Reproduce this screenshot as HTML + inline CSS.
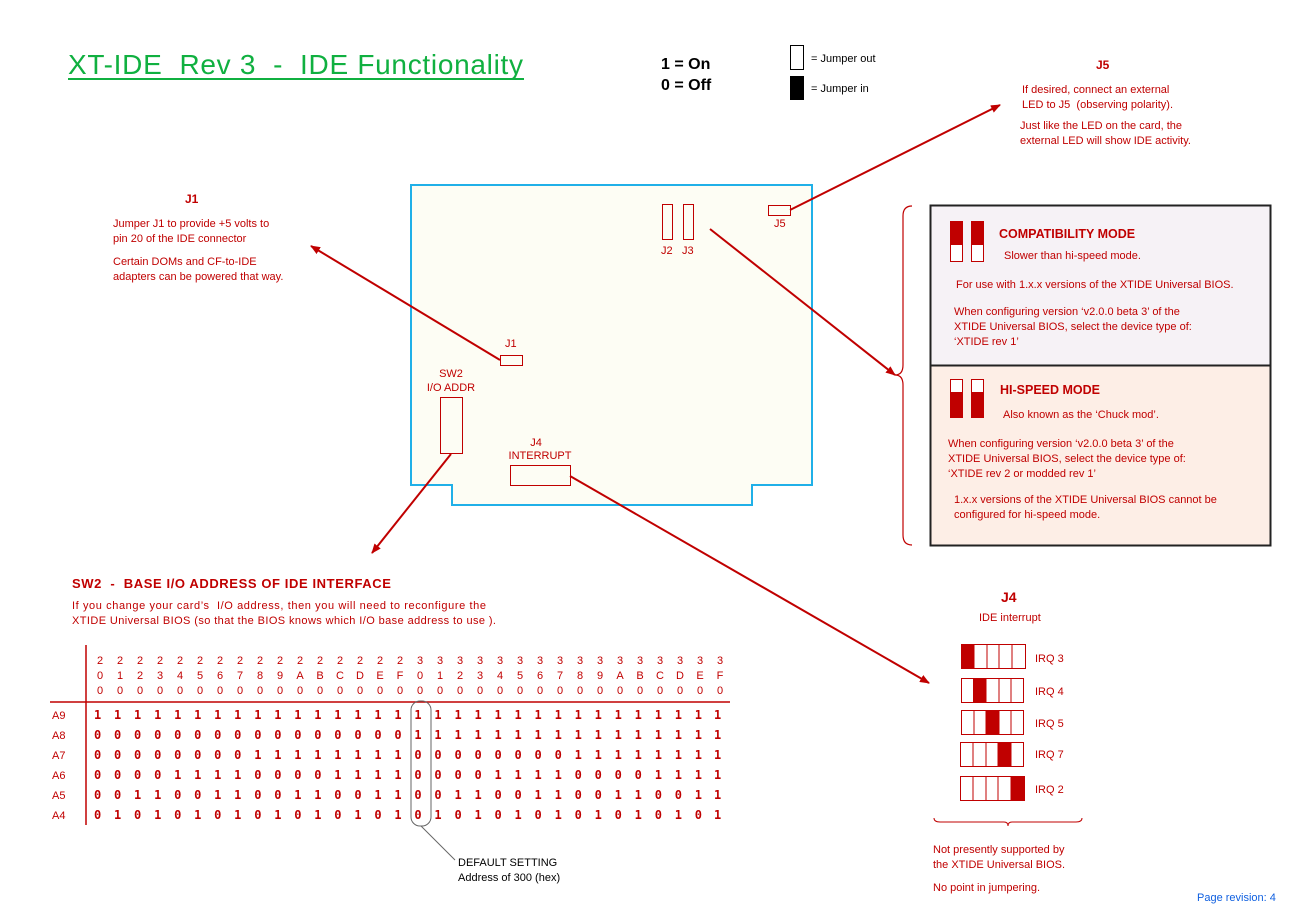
<!DOCTYPE html>
<html><head><meta charset="utf-8"><style>
html,body{margin:0;padding:0;background:#fff}
svg{display:block}
text{font-family:"Liberation Sans","DejaVu Sans",sans-serif;fill:#c00000;white-space:pre}
.s{font-size:11px}
.b{font-size:12px;font-weight:bold}
.hd{font-size:11px;text-anchor:middle}
.m{font-family:'DejaVu Sans Mono',monospace;font-size:12px;font-weight:bold}
.ml{font-family:'DejaVu Sans Mono',monospace;letter-spacing:12.8px;font-size:12px;font-weight:bold}
</style></head><body>
<svg width="1307" height="920" viewBox="0 0 1307 920" xmlns="http://www.w3.org/2000/svg" xml:space="preserve">
<defs><marker id="a" markerWidth="10" markerHeight="8" refX="9" refY="4" orient="auto" markerUnits="userSpaceOnUse"><path d="M0,0 L10,4 L0,8z" fill="#c00000"/></marker></defs>
<text x="68" y="74" style="font-size:28px;fill:#10b040" textLength="455" lengthAdjust="spacing">XT-IDE  Rev 3  -  IDE Functionality</text>
<line x1="68" y1="79" x2="524" y2="79" stroke="#10b040" stroke-width="2"/>
<text x="661" y="69" style="font-size:16px;fill:#000;font-weight:bold">1 = On</text>
<text x="661" y="90" style="font-size:16px;fill:#000;font-weight:bold">0 = Off</text>
<rect x="790.5" y="45.5" width="13" height="24" fill="#fff" stroke="#000"/>
<rect x="790" y="76" width="14" height="24" fill="#000"/>
<text x="811" y="62" style="font-size:11px;fill:#000">= Jumper out</text>
<text x="811" y="92" style="font-size:11px;fill:#000">= Jumper in</text>

<text x="1096" y="69" class="b">J5</text>
<text x="1022" y="93" class="s">If desired, connect an external</text>
<text x="1022" y="108" class="s">LED to J5  (observing polarity).</text>
<text x="1020" y="129" class="s">Just like the LED on the card, the</text>
<text x="1020" y="144" class="s">external LED will show IDE activity.</text>

<text x="185" y="203" class="b">J1</text>
<text x="113" y="227" class="s">Jumper J1 to provide +5 volts to</text>
<text x="113" y="242" class="s">pin 20 of the IDE connector</text>
<text x="113" y="265" class="s">Certain DOMs and CF-to-IDE</text>
<text x="113" y="280" class="s">adapters can be powered that way.</text>

<polygon points="411,185 812,185 812,485 752,485 752,505 452,505 452,485 411,485" fill="#fdfdf4" stroke="#20b0e8" stroke-width="2"/>
<rect x="662.5" y="204.5" width="10" height="35" fill="none" stroke="#c00000"/>
<rect x="683.5" y="204.5" width="10" height="35" fill="none" stroke="#c00000"/>
<text x="661" y="254" class="s">J2</text><text x="682" y="254" class="s">J3</text>
<rect x="768.5" y="205.5" width="22" height="10" fill="none" stroke="#c00000"/>
<text x="774" y="227" class="s">J5</text>
<rect x="500.5" y="355.5" width="22" height="10" fill="none" stroke="#c00000"/>
<text x="505" y="347" class="s">J1</text>
<text x="451" y="377" class="s" text-anchor="middle">SW2</text>
<text x="451" y="391" class="s" text-anchor="middle">I/O ADDR</text>
<rect x="440.5" y="397.5" width="22" height="56" fill="none" stroke="#c00000"/>
<text x="536" y="446" class="s" text-anchor="middle">J4</text>
<text x="540" y="459" class="s" text-anchor="middle">INTERRUPT</text>
<rect x="510.5" y="465.5" width="60" height="20" fill="none" stroke="#c00000"/>

<g stroke="#c00000" stroke-width="2" marker-end="url(#a)">
<line x1="790" y1="210" x2="1000" y2="105"/>
<line x1="710" y1="229" x2="895" y2="375"/>
<line x1="500" y1="360" x2="311" y2="246"/>
<line x1="451" y1="454" x2="372" y2="553"/>
<line x1="570" y1="476" x2="929" y2="683"/>
</g>

<path d="M912,206 Q903,206 903,216 L903,365 Q903,375 895,375 Q903,375 903,385 L903,535 Q903,545 912,545" fill="none" stroke="#c00000" stroke-width="1.2"/>
<rect x="930.5" y="205.5" width="340" height="160" fill="#f6f2f6" stroke="#222" stroke-width="2"/>
<rect x="930.5" y="365.5" width="340" height="180" fill="#fdeee6" stroke="#222" stroke-width="2"/>
<rect x="950.5" y="221.5" width="12" height="40" fill="#fff" stroke="#c00000"/><rect x="950" y="221" width="13" height="24" fill="#c00000"/>
<rect x="971.5" y="221.5" width="12" height="40" fill="#fff" stroke="#c00000"/><rect x="971" y="221" width="13" height="24" fill="#c00000"/>
<text x="999" y="238" class="b" style="font-size:12.5px">COMPATIBILITY MODE</text>
<text x="1004" y="259" class="s">Slower than hi-speed mode.</text>
<text x="956" y="288" class="s">For use with 1.x.x versions of the XTIDE Universal BIOS.</text>
<text x="954" y="315" class="s">When configuring version ‘v2.0.0 beta 3’ of the</text>
<text x="954" y="330" class="s">XTIDE Universal BIOS, select the device type of:</text>
<text x="954" y="345" class="s">‘XTIDE rev 1’</text>
<rect x="950.5" y="379.5" width="12" height="38" fill="#fff" stroke="#c00000"/><rect x="950" y="392" width="13" height="26" fill="#c00000"/>
<rect x="971.5" y="379.5" width="12" height="38" fill="#fff" stroke="#c00000"/><rect x="971" y="392" width="13" height="26" fill="#c00000"/>
<text x="1000" y="394" class="b" style="font-size:12.5px">HI-SPEED MODE</text>
<text x="1003" y="418" class="s">Also known as the ‘Chuck mod’.</text>
<text x="948" y="447" class="s">When configuring version ‘v2.0.0 beta 3’ of the</text>
<text x="948" y="462" class="s">XTIDE Universal BIOS, select the device type of:</text>
<text x="948" y="477" class="s">‘XTIDE rev 2 or modded rev 1’</text>
<text x="954" y="503" class="s">1.x.x versions of the XTIDE Universal BIOS cannot be</text>
<text x="954" y="518" class="s">configured for hi-speed mode.</text>

<text x="1001" y="602" class="b" style="font-size:14px">J4</text>
<text x="979" y="621" class="s">IDE interrupt</text>
<g stroke="#c00000" fill="#fff">
<rect x="961.5" y="644.5" width="64" height="24"/><rect x="961.5" y="678.5" width="62" height="24"/><rect x="961.5" y="710.5" width="62" height="24"/><rect x="960.5" y="742.5" width="63" height="24"/><rect x="960.5" y="776.5" width="64" height="24"/>
</g>
<g fill="#c00000"><rect x="961" y="644" width="13" height="25"/><rect x="973" y="678" width="13" height="25"/><rect x="986" y="710" width="13" height="25"/><rect x="998" y="742" width="13" height="25"/><rect x="1011" y="776" width="14" height="25"/></g>
<g stroke="#c00000"><path d="M974,645v24M987,645v24M999,645v24M1012,645v24M974,679v24M986,679v24M999,679v24M1011,679v24M974,711v24M986,711v24M999,711v24M1011,711v24M973,743v24M986,743v24M998,743v24M1011,743v24M973,777v24M986,777v24M998,777v24M1011,777v24"/></g>
<text x="1035" y="662" class="s">IRQ 3</text><text x="1035" y="695" class="s">IRQ 4</text><text x="1035" y="727" class="s">IRQ 5</text><text x="1035" y="758" class="s">IRQ 7</text><text x="1035" y="793" class="s">IRQ 2</text>
<path d="M934,818 Q934,822 940,822 L1004,822 Q1008,822 1008,826 Q1008,822 1012,822 L1076,822 Q1082,822 1082,818" fill="none" stroke="#c00000"/>
<text x="933" y="853" class="s">Not presently supported by</text>
<text x="933" y="868" class="s">the XTIDE Universal BIOS.</text>
<text x="933" y="891" class="s">No point in jumpering.</text>
<text x="1197" y="901" class="s" style="fill:#1060e0">Page revision: 4</text>

<text x="72" y="588" class="b" style="font-size:13px;letter-spacing:0.6px">SW2  -  BASE I/O ADDRESS OF IDE INTERFACE</text>
<text x="72" y="609" class="s" textLength="414">If you change your card’s  I/O address, then you will need to reconfigure the</text>
<text x="72" y="624" class="s" textLength="424">XTIDE Universal BIOS (so that the BIOS knows which I/O base address to use ).</text>

<line x1="86" y1="645" x2="86" y2="825" stroke="#c00000" stroke-width="1.5"/>
<line x1="50" y1="702" x2="730" y2="702" stroke="#c00000" stroke-width="1.5"/>
<rect x="411" y="701" width="20" height="125" rx="9" fill="none" stroke="#666"/>
<line x1="421" y1="826" x2="455" y2="860" stroke="#666"/>
<text x="458" y="866" class="s" style="fill:#000">DEFAULT SETTING</text>
<text x="458" y="881" class="s" style="fill:#000">Address of 300 (hex)</text>

<text y="664" class="hd"><tspan x="100">2</tspan><tspan x="120">2</tspan><tspan x="140">2</tspan><tspan x="160">2</tspan><tspan x="180">2</tspan><tspan x="200">2</tspan><tspan x="220">2</tspan><tspan x="240">2</tspan><tspan x="260">2</tspan><tspan x="280">2</tspan><tspan x="300">2</tspan><tspan x="320">2</tspan><tspan x="340">2</tspan><tspan x="360">2</tspan><tspan x="380">2</tspan><tspan x="400">2</tspan><tspan x="420">3</tspan><tspan x="440">3</tspan><tspan x="460">3</tspan><tspan x="480">3</tspan><tspan x="500">3</tspan><tspan x="520">3</tspan><tspan x="540">3</tspan><tspan x="560">3</tspan><tspan x="580">3</tspan><tspan x="600">3</tspan><tspan x="620">3</tspan><tspan x="640">3</tspan><tspan x="660">3</tspan><tspan x="680">3</tspan><tspan x="700">3</tspan><tspan x="720">3</tspan></text>
<text y="679" class="hd"><tspan x="100">0</tspan><tspan x="120">1</tspan><tspan x="140">2</tspan><tspan x="160">3</tspan><tspan x="180">4</tspan><tspan x="200">5</tspan><tspan x="220">6</tspan><tspan x="240">7</tspan><tspan x="260">8</tspan><tspan x="280">9</tspan><tspan x="300">A</tspan><tspan x="320">B</tspan><tspan x="340">C</tspan><tspan x="360">D</tspan><tspan x="380">E</tspan><tspan x="400">F</tspan><tspan x="420">0</tspan><tspan x="440">1</tspan><tspan x="460">2</tspan><tspan x="480">3</tspan><tspan x="500">4</tspan><tspan x="520">5</tspan><tspan x="540">6</tspan><tspan x="560">7</tspan><tspan x="580">8</tspan><tspan x="600">9</tspan><tspan x="620">A</tspan><tspan x="640">B</tspan><tspan x="660">C</tspan><tspan x="680">D</tspan><tspan x="700">E</tspan><tspan x="720">F</tspan></text>
<text y="694" class="hd"><tspan x="100">0</tspan><tspan x="120">0</tspan><tspan x="140">0</tspan><tspan x="160">0</tspan><tspan x="180">0</tspan><tspan x="200">0</tspan><tspan x="220">0</tspan><tspan x="240">0</tspan><tspan x="260">0</tspan><tspan x="280">0</tspan><tspan x="300">0</tspan><tspan x="320">0</tspan><tspan x="340">0</tspan><tspan x="360">0</tspan><tspan x="380">0</tspan><tspan x="400">0</tspan><tspan x="420">0</tspan><tspan x="440">0</tspan><tspan x="460">0</tspan><tspan x="480">0</tspan><tspan x="500">0</tspan><tspan x="520">0</tspan><tspan x="540">0</tspan><tspan x="560">0</tspan><tspan x="580">0</tspan><tspan x="600">0</tspan><tspan x="620">0</tspan><tspan x="640">0</tspan><tspan x="660">0</tspan><tspan x="680">0</tspan><tspan x="700">0</tspan><tspan x="720">0</tspan></text>
<text x="52" y="719" class="s">A9</text><text x="52" y="739" class="s">A8</text><text x="52" y="759" class="s">A7</text><text x="52" y="779" class="s">A6</text><text x="52" y="799" class="s">A5</text><text x="52" y="819" class="s">A4</text>
<text x="94" y="719" class="ml">1111111111111111111111111111111</text><text x="714" y="719" class="m">1</text>
<text x="94" y="739" class="ml">0000000000000000111111111111111</text><text x="714" y="739" class="m">1</text>
<text x="94" y="759" class="ml">0000000011111111000000001111111</text><text x="714" y="759" class="m">1</text>
<text x="94" y="779" class="ml">0000111100001111000011110000111</text><text x="714" y="779" class="m">1</text>
<text x="94" y="799" class="ml">0011001100110011001100110011001</text><text x="714" y="799" class="m">1</text>
<text x="94" y="819" class="ml">0101010101010101010101010101010</text><text x="714" y="819" class="m">1</text>
</svg>
</body></html>
